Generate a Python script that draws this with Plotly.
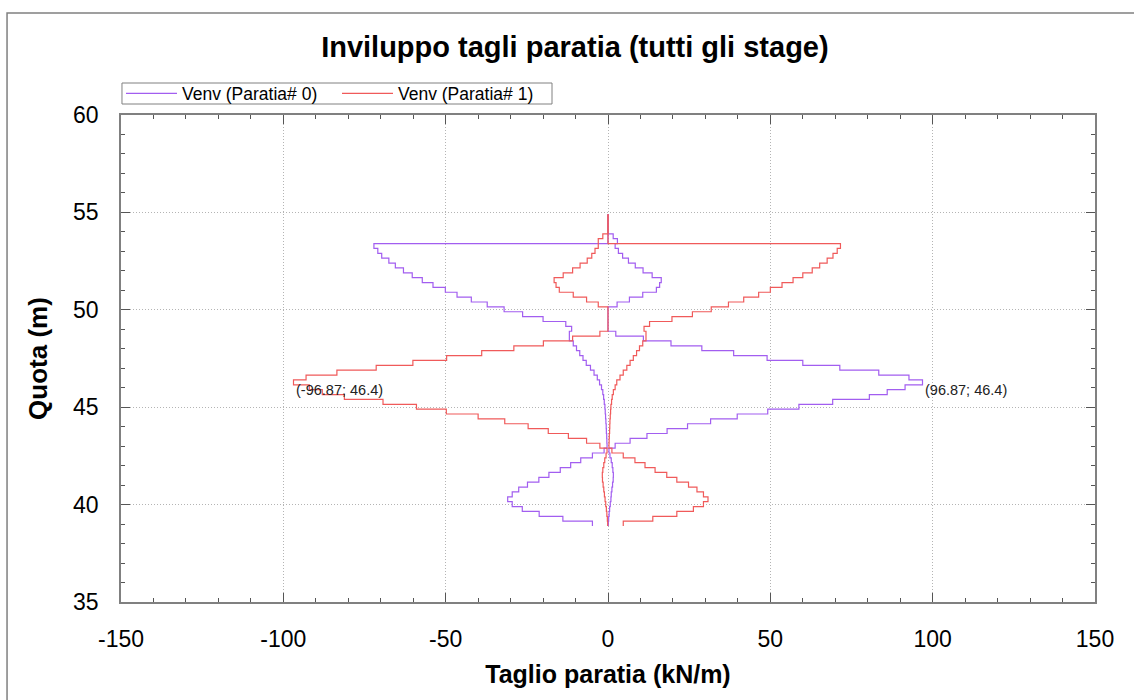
import plotly.graph_objects as go

# Element boundary levels (Quota, m), from top to bottom
quota_nodes = [54.9, 54.65, 54.4, 54.15, 53.9, 53.65, 53.4, 53.15, 52.9, 52.65,
               52.4, 52.15, 51.9, 51.65, 51.4, 51.15, 50.9, 50.65, 50.4, 50.15,
               49.9, 49.65, 49.4, 49.15, 48.9, 48.65, 48.4, 48.15, 47.9, 47.65,
               47.4, 47.15, 46.9, 46.65, 46.4, 46.15, 45.9, 45.65, 45.4, 45.15,
               44.9, 44.65, 44.4, 44.15, 43.9, 43.65, 43.4, 43.15, 42.9, 42.65,
               42.4, 42.15, 41.9, 41.65, 41.4, 41.15, 40.9, 40.65, 40.4, 40.15,
               39.9, 39.65, 39.4, 39.15, 38.9]

# Paratia# 0 - envelope values per element (kN/m)
p0_max = [0, 0, 0, 0, 1.6, 2.9,
          2.2, 3.2, 4.5, 6.3, 8.4, 10.8, 13.6, 16.4, 15.9, 14.9, 10.7, 6.6, 2.8,
          0, 0, 0, 0, 0,
          2.4, 10.9, 19.4, 28.9, 38.7, 49.0, 60.0, 71.4, 83.4, 92.7, 96.87, 91.5,
          86.0, 80.5, 69.2, 58.8, 49.2, 39.8, 31.6, 24.5, 18.2, 12.0, 6.8, 2.2,
          0.3, 0.6, 1.0, 1.3, 1.5, 1.65, 1.6, 1.4, 1.2, 1.0, 0.9, 0.7, 0.5, 0.35, 0.2, 0.1]
p0_min = [0, 0, 0, 0, 0, 0,
          -72.1, -70.9, -69.7, -67.5, -65.5, -63.0, -60.3, -57.2, -53.9, -50.1,
          -46.5, -42.1, -37.2, -32.0, -26.3, -20.0, -13.0, -11.2, -11.9, -11.9,
          -10.7, -9.7, -8.7, -7.7, -6.7, -5.4, -4.3, -3.3, -2.6, -2.0, -1.6, -1.35,
          -1.15, -0.95, -0.85, -0.75, -0.65, -0.55, -0.5, -0.4, -0.35, -0.3,
          -1.2, -4.8, -8.4, -11.5, -14.7, -18.2, -21.3, -24.8, -27.5, -29.5, -30.9,
          -29.5, -26.4, -21.2, -13.9, -4.8]

# Paratia# 1 - envelope values per element (kN/m)
p1_max = [0, 0, 0, 0, 0, 0,
          71.6, 70.6, 69.3, 67.5, 65.2, 62.9, 60.0, 57.0, 53.6, 50.0,
          46.4, 41.8, 37.1, 31.8, 26.0, 19.7, 12.8, 11.1, 11.7, 11.7,
          10.7, 9.7, 8.8, 7.8, 6.8, 5.8, 4.7, 3.7, 2.7, 2.2, 1.65, 1.3,
          1.1, 0.9, 0.8, 0.7, 0.6, 0.55, 0.5, 0.4, 0.35, 0.3,
          1.2, 4.7, 8.3, 11.4, 14.5, 18.1, 21.2, 24.8, 27.4, 29.4, 30.8,
          29.4, 26.3, 21.2, 13.8, 4.7]
p1_min = [0, 0, 0, 0, -1.6, -3.0,
          -3.0, -4.0, -5.0, -6.4, -8.6, -10.9, -13.8, -16.6, -16.0, -15.0, -10.7, -6.6, -3.0,
          0, 0, 0, 0, 0,
          -2.5, -10.9, -19.9, -29.0, -38.9, -49.7, -60.1, -71.4, -83.5, -93.0, -96.87, -92.0,
          -88.0, -81.2, -69.3, -59.0, -49.8, -40.0, -31.8, -24.6, -18.4, -12.2, -6.6, -2.5,
          -0.3, -0.6, -1.0, -1.3, -1.6, -1.75, -1.7, -1.5, -1.3, -1.1, -0.9, -0.7, -0.5, -0.35, -0.2, -0.1]

series_names = ["Venv (Paratia# 0)", "Venv (Paratia# 1)"]
series_colors = ["#A25EF0", "#F05A5A"]

x_tick_vals = [-150, -100, -50, 0, 50, 100, 150]
x_tick_text = ["-150", "-100", "-50", "0", "50", "100", "150"]
y_tick_vals = [35, 40, 45, 50, 55, 60]
y_tick_text = ["35", "40", "45", "50", "55", "60"]

FONT = "Liberation Sans, Arial, sans-serif"
AXIS_GRAY = "#808080"
TICK_GRAY = "#555555"

fig = go.Figure()

def add_env(vals, name, color, show):
    fig.add_trace(go.Scatter(
        x=list(vals) + [vals[-1]], y=quota_nodes, mode="lines",
        line=dict(color=color, width=1.2, shape="vh"),
        name=name, legendgroup=name, showlegend=show))

add_env(p0_max, series_names[0], series_colors[0], True)
add_env(p0_min, series_names[0], series_colors[0], False)
add_env(p1_max, series_names[1], series_colors[1], True)
add_env(p1_min, series_names[1], series_colors[1], False)

# peak annotations
i_max = p0_max.index(max(p0_max))
i_min = p1_min.index(min(p1_min))
for xv, yv in [(p1_min[i_min], quota_nodes[i_min]), (p0_max[i_max], quota_nodes[i_max])]:
    fig.add_annotation(x=xv, y=yv, xref="x", yref="y", text=f"({xv:g}; {yv:g})",
                       showarrow=False, xanchor="left", yanchor="top",
                       font=dict(family=FONT, size=14.5, color="#222222"))

common_axis = dict(showline=True, linecolor=AXIS_GRAY, linewidth=1.5, mirror="allticks",
                   ticks="inside", ticklen=9, tickcolor=TICK_GRAY, tickwidth=1,
                   showgrid=True, gridcolor="#b4b4b4", griddash="1px,2px", gridwidth=1,
                   zeroline=False, tickfont=dict(family=FONT, size=23, color="black"))

def tick_axis(rng, side, anchor, overlay, direction, t0, d_major, d_minor):
    return dict(range=rng, overlaying=overlay, anchor=anchor, side=side, tick0=t0, dtick=d_major,
                ticks=direction, ticklen=9, tickcolor=TICK_GRAY, showticklabels=False,
                showgrid=False, showline=False, zeroline=False,
                minor=dict(ticks=direction, ticklen=4, dtick=d_minor, tickcolor=TICK_GRAY, showgrid=False))

fig.update_layout(
    width=1134, height=700, autosize=False,
    paper_bgcolor="white", plot_bgcolor="white",
    margin=dict(l=121, r=39, t=115, b=98, pad=0),
    title=dict(text="Inviluppo tagli paratia (tutti gli stage)", x=0.466, xref="paper",
               xanchor="center", y=1 - 47 / 700, yref="container", yanchor="middle",
               font=dict(family=FONT, size=29, color="black", weight="bold")),
    xaxis=dict(range=[-150, 150], tickmode="array", tickvals=x_tick_vals, ticktext=x_tick_text,
               ticklabelstandoff=16,
               minor=dict(ticks="inside", ticklen=4, dtick=10, tick0=-150, tickcolor=TICK_GRAY, showgrid=False),
               title=dict(text="Taglio paratia (kN/m)", standoff=14,
                          font=dict(family=FONT, size=25, color="black", weight="bold")),
               **common_axis),
    yaxis=dict(range=[35, 60], tickmode="array", tickvals=y_tick_vals, ticktext=y_tick_text,
               ticklabelstandoff=16,
               minor=dict(ticks="inside", ticklen=4, dtick=1, tick0=35, tickcolor=TICK_GRAY, showgrid=False),
               title=dict(text="Quota (m)", standoff=18,
                          font=dict(family=FONT, size=26, color="black", weight="bold")),
               **common_axis),
    # outside halves of the crossing ticks on bottom / left
    xaxis2=tick_axis([-150, 150], "bottom", "y", "x", "outside", -150, 50, 10),
    yaxis2=tick_axis([35, 60], "left", "x", "y", "outside", 35, 5, 1),
    # inside ticks on top / right
    xaxis3=tick_axis([-150, 150], "top", "y", "x", "inside", -150, 50, 10),
    yaxis3=tick_axis([35, 60], "right", "x", "y", "inside", 35, 5, 1),
    legend=dict(orientation="h", x=0, xanchor="left", y=1.0811, yanchor="top",
                borderwidth=0, bgcolor="rgba(0,0,0,0)",
                font=dict(family=FONT, size=17.5, color="black"),
                itemwidth=51, entrywidth=150, entrywidthmode="pixels", tracegroupgap=0),
    shapes=[dict(type="rect", xref="paper", yref="paper",
                 x0=-0.117, x1=1.046, y0=-0.2136, y1=1.2094,
                 line=dict(color=AXIS_GRAY, width=1.5), fillcolor="rgba(0,0,0,0)", layer="below"),
            # legend frame
            dict(type="rect", xref="paper", yref="paper",
                 x0=0.001, x1=(552 - 121) / 974, y0=(602 - 104) / 487, y1=(602 - 83) / 487,
                 line=dict(color=AXIS_GRAY, width=1), fillcolor="white", layer="below")],
    showlegend=True,
)

fig.write_html("out.html", post_script="document.body.style.margin='0';",
               config={"displayModeBar": False})
